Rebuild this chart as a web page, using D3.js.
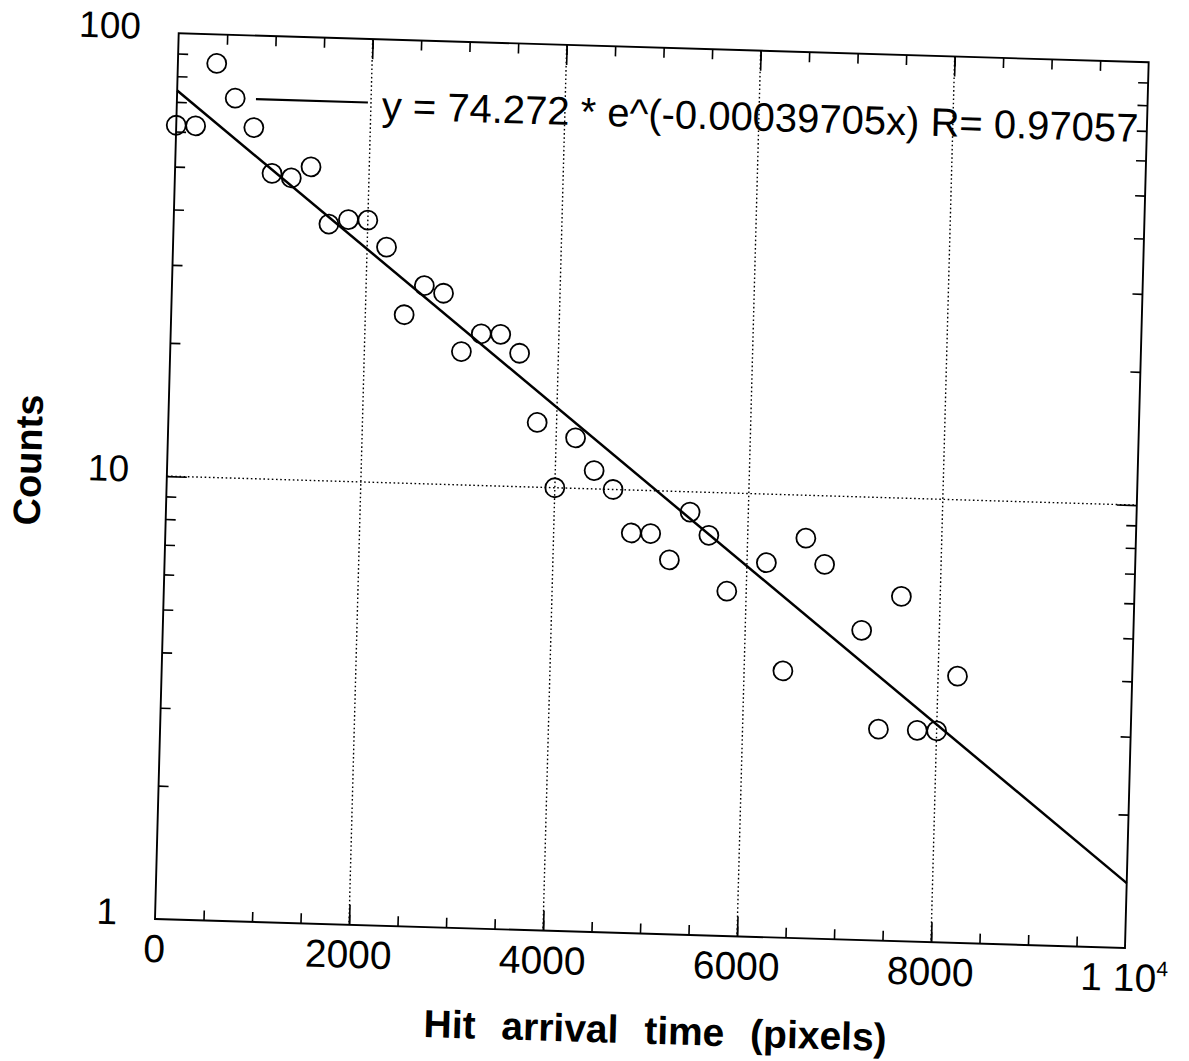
<!DOCTYPE html>
<html>
<head>
<meta charset="utf-8">
<script src="https://cdn.jsdelivr.net/npm/d3@7"></script>
<style>
  body { margin: 0; background: #fff; }
  text { font-family: "Liberation Sans", Arial, Helvetica, sans-serif; fill: #000; }
</style>
</head>
<body>
<script>
// bins (hit arrival time, pixels) and counts
const binStart = [0, 200, 400, 600, 800, 1000, 1200, 1400, 1600, 1800,
                  2000, 2200, 2400, 2600, 2800, 3000, 3200, 3400, 3600, 3800,
                  4000, 4200, 4400, 4600, 4800, 5000, 5200, 5400, 5600, 5800,
                  6200, 6400, 6600, 6800, 7200, 7400, 7600, 7800, 8000, 8200];
const counts = [62, 62, 86, 72, 62, 49, 48, 51, 38, 39,
                39, 34, 24, 28, 27, 20, 22, 22, 20, 14,
                10, 13, 11, 10, 8, 8, 7, 9, 8, 6,
                7, 4, 8, 7, 5, 3, 6, 3, 3, 4];

const xTickValues = [0, 2000, 4000, 6000, 8000, 10000];
const xTickLabels = ["0", "2000", "4000", "6000", "8000", "1 10"];
const yTickValues = [1, 10, 100];
const yTickLabels = ["1", "10", "100"];
const xGrid = [2000, 4000, 6000, 8000];
const yGrid = [10];

// exponential fit shown on the chart
const fitA = 74.272;
const fitK = -0.00039705;
const fitR = 0.97057;

const W = 970.4, H = 886;

const svg = d3.select("body").append("svg")
    .attr("width", 1189)
    .attr("height", 1061);

// the scanned page is slightly tilted
const g = svg.append("g")
    .attr("transform", "matrix(0.99955,0.02988,-0.02675,0.99964,178.7,33.3)");

const x = d3.scaleLinear().domain([0, 10000]).range([0, W]);
const y = d3.scaleLog().domain([1, 100]).range([H, 0]);

// dotted grid
g.selectAll(".vgrid").data(xGrid).join("line")
    .attr("x1", d => x(d)).attr("x2", d => x(d))
    .attr("y1", 0).attr("y2", H)
    .attr("stroke", "#000").attr("stroke-width", 1.4)
    .attr("stroke-dasharray", "1.6,2.6");
g.selectAll(".hgrid").data(yGrid).join("line")
    .attr("x1", 0).attr("x2", W)
    .attr("y1", d => y(d)).attr("y2", d => y(d))
    .attr("stroke", "#000").attr("stroke-width", 1.4)
    .attr("stroke-dasharray", "1.6,2.6");

// inward ticks on all four sides
const xMinor = d3.range(500, 10000, 500);
const yMinor = [2, 3, 4, 5, 6, 7, 8, 9, 20, 30, 40, 50, 60, 70, 80, 90];

function tickAxis(axis, transform) {
    const a = g.append("g").attr("transform", transform).call(axis.tickFormat(""));
    a.select(".domain").remove();
    a.selectAll(".tick line").attr("stroke", "#000").attr("stroke-width", 1.6);
}
tickAxis(d3.axisBottom(x).tickValues(xMinor).tickSize(-10).tickSizeOuter(0), `translate(0,${H})`);
tickAxis(d3.axisBottom(x).tickValues(xGrid).tickSize(-20).tickSizeOuter(0), `translate(0,${H})`);
tickAxis(d3.axisTop(x).tickValues(xMinor).tickSize(-10).tickSizeOuter(0), "translate(0,0)");
tickAxis(d3.axisTop(x).tickValues(xGrid).tickSize(-20).tickSizeOuter(0), "translate(0,0)");
tickAxis(d3.axisLeft(y).tickValues(yMinor).tickSize(-10).tickSizeOuter(0), "translate(0,0)");
tickAxis(d3.axisLeft(y).tickValues(yGrid).tickSize(-20).tickSizeOuter(0), "translate(0,0)");
tickAxis(d3.axisRight(y).tickValues(yMinor).tickSize(-10).tickSizeOuter(0), `translate(${W},0)`);
tickAxis(d3.axisRight(y).tickValues(yGrid).tickSize(-20).tickSizeOuter(0), `translate(${W},0)`);

// frame
g.append("rect")
    .attr("x", 0).attr("y", 0).attr("width", W).attr("height", H)
    .attr("fill", "none").attr("stroke", "#000").attr("stroke-width", 1.9);

// fit line (straight on a log axis)
const fitX = [0, 10000];
g.append("path")
    .datum(fitX)
    .attr("d", d3.line().x(d => x(d)).y(d => y(fitA * Math.exp(fitK * d))))
    .attr("fill", "none").attr("stroke", "#000").attr("stroke-width", 2.5);

// data points
g.selectAll(".pt").data(binStart).join("circle")
    .attr("cx", d => x(d))
    .attr("cy", (d, i) => y(counts[i]))
    .attr("r", 9.5)
    .attr("fill", "none").attr("stroke", "#000").attr("stroke-width", 1.8);

// legend / fit annotation
g.append("line")
    .attr("x1", 79).attr("x2", 191).attr("y1", 63.5).attr("y2", 63.5)
    .attr("stroke", "#000").attr("stroke-width", 2.2);
g.append("text")
    .attr("x", 205).attr("y", 80)
    .attr("font-size", 40)
    .text(`y = ${fitA} * e^(${fitK.toFixed(8)}x) R= ${fitR}`);

// tick labels
g.selectAll(".xl").data(xTickValues).join("text")
    .attr("x", d => x(d)).attr("y", H + 43)
    .attr("text-anchor", "middle").attr("font-size", 39)
    .each(function (d, i) {
        const t = d3.select(this).text(xTickLabels[i]);
        if (d === 10000) t.append("tspan").attr("font-size", 21).attr("dy", -16).text("4");
    });
g.selectAll(".yl").data(yTickValues).join("text")
    .attr("x", -38).attr("y", d => y(d) + 6.5)
    .attr("text-anchor", "end").attr("font-size", 37)
    .text((d, i) => yTickLabels[i]);

// axis titles
g.append("text")
    .attr("x", 503).attr("y", 996)
    .attr("text-anchor", "middle").attr("font-size", 39).attr("font-weight", "bold")
    .attr("word-spacing", 15)
    .text("Hit arrival time (pixels)");
g.append("text")
    .attr("transform", "translate(-126,431) rotate(-90)")
    .attr("text-anchor", "middle").attr("font-size", 38).attr("font-weight", "bold")
    .text("Counts");
</script>
</body>
</html>
